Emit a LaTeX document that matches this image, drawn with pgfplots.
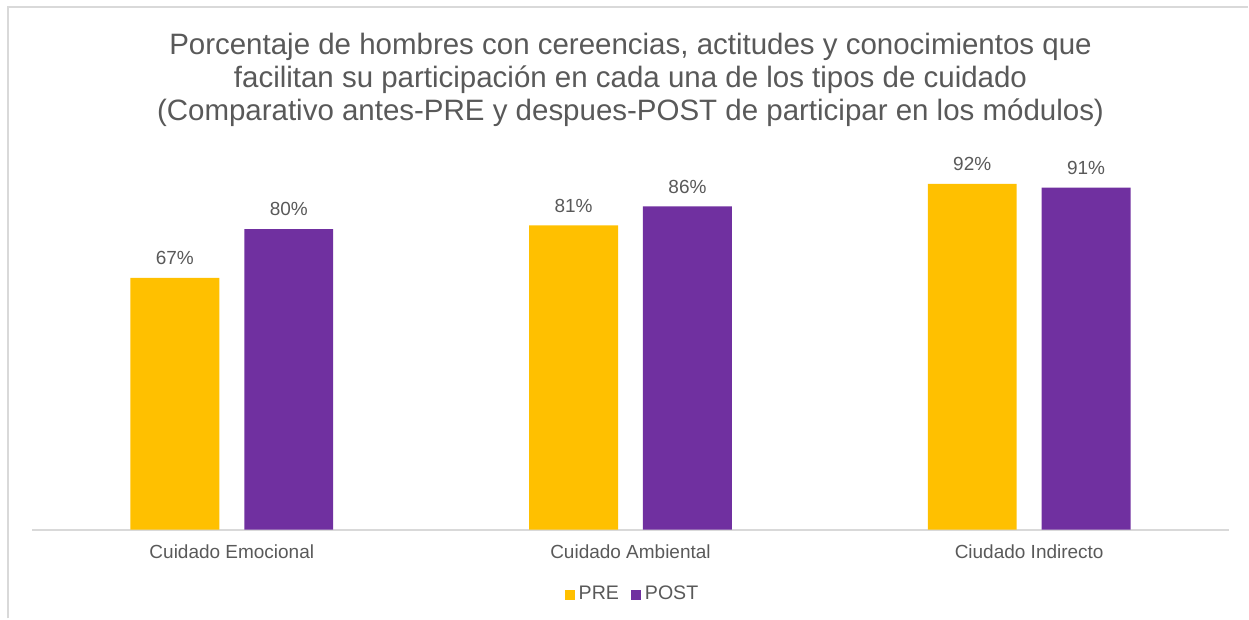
\documentclass[border=0pt]{standalone}
\usepackage{pgfplots}
\pgfplotsset{compat=1.18}
\usepackage{fontspec}
\setmainfont{Liberation Sans}
\definecolor{pre}{HTML}{FFC000}
\definecolor{post}{HTML}{7030A0}
\definecolor{txt}{HTML}{595959}
\definecolor{axisgray}{HTML}{D9D9D9}
\begin{document}
\begin{tikzpicture}
% page size and frame (1 px = 0.5pt)
\path (-16.25pt,-44.5pt) rectangle (608.25pt,265pt);
\draw[axisgray, line width=1pt] (-12.25pt,-44.5pt) -- (-12.25pt,261.5pt) -- (608.25pt,261.5pt);
\begin{axis}[
    at={(0pt,0pt)}, anchor=south west,
    scale only axis,
    width=598.5pt, height=188pt,
    ybar=12.5pt, bar width=44.5pt,
    xmin=-0.5, xmax=2.5, ymin=0, ymax=100,
    axis x line*=bottom, axis y line=none,
    x axis line style={axisgray, line width=1pt, -},
    xtick={0,1,2},
    xticklabels={Cuidado Emocional, Cuidado Ambiental, Ciudado Indirecto},
    major tick length=0pt,
    xticklabel style={font=\fontsize{9.5}{11}\selectfont, text=txt, yshift=-4pt},
    /pgf/number format/assume math mode=true,
    nodes near coords={\pgfmathprintnumber{\pgfplotspointmeta}\%},
    every node near coord/.append style={font=\fontsize{9.5}{11}\selectfont, text=txt, yshift=3pt},
    legend columns=2,
    legend style={draw=none, fill=none, at={(0.5025,-0.173)}, anchor=center,
        font=\fontsize{9.8}{11}\selectfont, text=txt,
        /tikz/every even column/.append style={column sep=4pt}},
    legend image code/.code={\fill[#1] (0pt,-2.5pt) rectangle (5pt,2.5pt);},
]
\addplot[fill=pre, draw=none] coordinates {(0,67) (1,81) (2,92)};
\addplot[fill=post, draw=none] coordinates {(0,80) (1,86) (2,91)};
\legend{PRE, POST}
\end{axis}
\node[align=center, text=txt, font=\fontsize{14.75}{16.4}\selectfont] at (299.25pt,225pt)
  {Porcentaje de hombres con cereencias, actitudes y conocimientos que\\
   facilitan su participación en cada una de los tipos de cuidado\\
   (Comparativo antes-PRE y despues-POST de participar en los módulos)};
\end{tikzpicture}
\end{document}
